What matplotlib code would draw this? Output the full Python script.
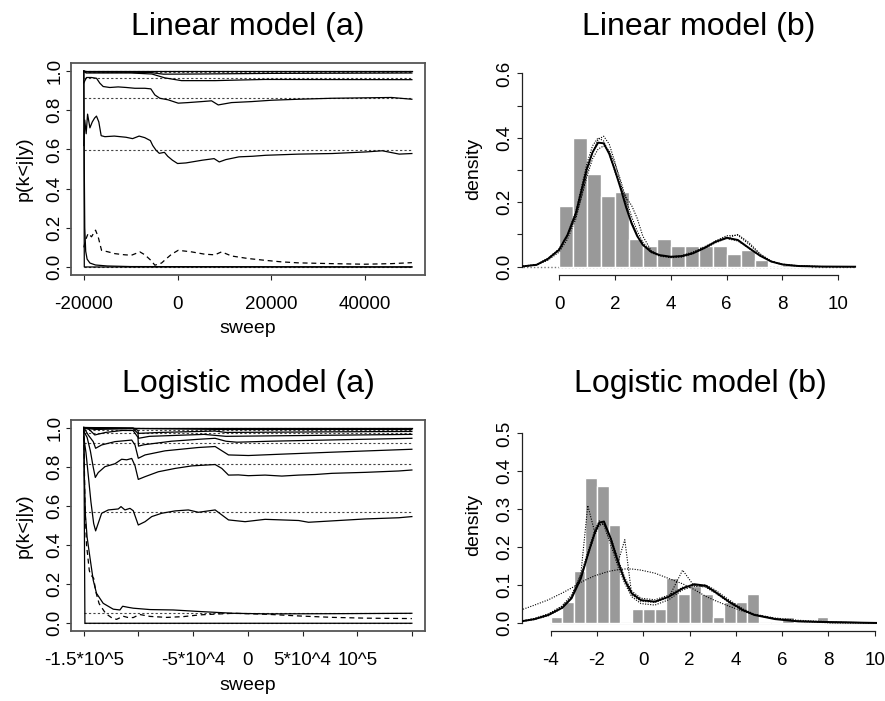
import matplotlib
matplotlib.use("Agg")
import matplotlib.pyplot as plt

plt.rcParams['font.family'] = ['Liberation Sans', 'DejaVu Sans']
plt.rcParams['axes.unicode_minus'] = False

# ---------------- data ----------------
# Linear model (a): running estimates of p(k<j|y)
lin_A_x = [-20000, -19800, -19500, -19200, -18700, -18200, -17700, -17300, -16800, -16300,
           -15500, -13500, -11000, -9600, -8200, -7000, -5800, -5300, -4600, -3900,
           -2800, -2100, -1100, 0, 1800, 5300, 7800, 8900, 10300, 13100,
           16000, 18800, 25900, 33000, 40100, 43700, 47300, 50000]
lin_A_y = [0.62, 0.75, 0.68, 0.78, 0.71, 0.74, 0.76, 0.77, 0.74, 0.67,
           0.665, 0.668, 0.662, 0.655, 0.668, 0.66, 0.645, 0.62, 0.596, 0.58,
           0.585, 0.565, 0.545, 0.528, 0.531, 0.545, 0.553, 0.536, 0.548, 0.562,
           0.565, 0.57, 0.576, 0.579, 0.587, 0.593, 0.576, 0.579]
lin_B_x = [-20000, -19430, -18360, -17290, -16580, -15870, -14450, -12670, -10890, -9110,
           -6980, -5700, -4840, -3780, -2000, 140, 2270, 5120, 7250, 8680,
           11520, 15790, 20060, 25750, 32860, 45660, 50000]
lin_B_y = [0.94, 0.967, 0.967, 0.963, 0.938, 0.921, 0.916, 0.919, 0.916, 0.912,
           0.912, 0.909, 0.878, 0.861, 0.853, 0.836, 0.839, 0.844, 0.848, 0.827,
           0.839, 0.844, 0.851, 0.856, 0.861, 0.865, 0.856]
lin_C_x = [-20000, -19500, -10000, -5500, -2700, 850, 8000, 12900, 18600, 50000]
lin_C_y = [1.0, 0.99, 0.99, 0.985, 0.965, 0.951, 0.951, 0.954, 0.957, 0.956]
lin_D_x = [-20000, -19000, -6000, -3000, 5000, 20000, 50000]
lin_D_y = [1.0, 0.995, 0.993, 0.984, 0.985, 0.988, 0.99]
lin_E_x = [-20000, 50000]
lin_E_y = [1.0, 1.0]
lin_G_x = [-20000, -19900, -19800, -19600, -19300, -18700, -17500, -15000, -10000, 50000]
lin_G_y = [1.0, 0.5, 0.2, 0.08, 0.04, 0.02, 0.01, 0.005, 0.002, 0.0]
lin_H_x = [-20000, -19900, 50000]
lin_H_y = [1.0, 0.0, 0.0]
lin_F_x = [-20000, -19640, -19080, -18360, -17500, -16940, -16220, -14800, -13380, -11250,
           -9820, -8040, -6980, -5700, -4840, -3420, -2350, -1280, 140, 2990,
           5830, 7960, 9390, 11520, 15070, 18630, 22190, 25740, 32860, 39970,
           45660, 50000]
lin_F_y = [0.1, 0.137, 0.171, 0.154, 0.188, 0.154, 0.085, 0.077, 0.068, 0.062,
           0.06, 0.077, 0.062, 0.034, 0.009, 0.02, 0.043, 0.065, 0.085, 0.077,
           0.065, 0.062, 0.077, 0.056, 0.043, 0.034, 0.026, 0.021, 0.017, 0.014,
           0.017, 0.022]
lin_ref = [0.0, 0.597, 0.861, 0.962, 0.994, 1.0]
lin_sweep = [-20000, 50000]

# Logistic model (a)
log_T1_x = [-150000, -148000, -146000, -143500, -141000, -139200, -133700, -127600, -118500, -116000,
            -112400, -107800, -104800, -100200, -94000, -87900, -78800, -66600, -54400, -45200,
            -29900, -17700, -2500, 15800, 31100, 46400, 55500, 76900, 107400, 137900, 150000]
log_T1_y = [0.95, 0.87, 0.76, 0.62, 0.51, 0.472, 0.562, 0.579, 0.584, 0.596,
            0.579, 0.587, 0.575, 0.502, 0.519, 0.545, 0.562, 0.574, 0.579, 0.567,
            0.579, 0.528, 0.519, 0.531, 0.528, 0.525, 0.516, 0.523, 0.533, 0.539, 0.545]
log_T2_x = [-150000, -147000, -144000, -141500, -139500, -136800, -130700, -121500, -115400, -110800,
            -106200, -103200, -100200, -94000, -81900, -66600, -51300, -39100, -29900, -23800,
            -17700, -8600, 500, 15800, 31100, 46400, 61600, 76900, 107400, 137900, 150000]
log_T2_y = [0.98, 0.95, 0.88, 0.8, 0.745, 0.77, 0.8, 0.815, 0.838, 0.835,
            0.842, 0.805, 0.735, 0.749, 0.774, 0.791, 0.804, 0.808, 0.811, 0.791,
            0.757, 0.758, 0.754, 0.757, 0.752, 0.757, 0.76, 0.766, 0.771, 0.778, 0.783]
log_T3_x = [-150000, -146000, -141400, -139200, -133700, -121500, -106200, -103200, -100200, -94000,
            -75700, -45200, -29900, -17700, 500, 31100, 76900, 150000]
log_T3_y = [1.0, 0.962, 0.928, 0.894, 0.911, 0.928, 0.936, 0.911, 0.843, 0.86,
            0.881, 0.898, 0.903, 0.86, 0.857, 0.864, 0.874, 0.889]
log_T4_x = [-150000, -145000, -140000, -130000, -115000, -105000, -100500, -100000, -95000, -70000,
            -45000, -30000, -20000, -10000, 20000, 80000, 150000]
log_T4_y = [1.0, 0.99, 0.962, 0.975, 0.985, 0.985, 0.95, 0.905, 0.912, 0.93,
            0.94, 0.945, 0.93, 0.925, 0.93, 0.937, 0.945]
log_T5_x = [-150000, -140000, -105000, -100500, -100000, -90000, -40000, -20000, 150000]
log_T5_y = [1.0, 0.99, 0.995, 0.97, 0.945, 0.955, 0.965, 0.955, 0.965]
log_T6_x = [-150000, -105000, -100500, -100000, -80000, -30000, -20000, 150000]
log_T6_y = [1.0, 0.998, 0.985, 0.97, 0.975, 0.982, 0.975, 0.98]
log_T7_x = [-150000, -100000, -20000, 150000]
log_T7_y = [1.0, 0.995, 0.99, 0.99]
log_T8_x = [-150000, 150000]
log_T8_y = [1.0, 1.0]
log_L1_x = [-150000, -149500, -148500, -147000, -144500, -141400, -138400, -132300, -123100, -117000,
            -114500, -110000, -104800, -89500, -68200, -43800, -13200, 17300, 78300, 150000]
log_L1_y = [1.0, 0.75, 0.55, 0.44, 0.34, 0.22, 0.153, 0.102, 0.072, 0.068,
            0.087, 0.082, 0.077, 0.07, 0.068, 0.06, 0.051, 0.048, 0.049, 0.051]
log_L2_x = [-150000, -149000, -147500, -145000, -144000, -141000, -139000, -136000, -130000, -124000,
            -120000, -114000, -110000, -104800, -99000, -89500, -74000, -59000, -43800, -13200,
            17300, 48000, 78300, 109000, 150000]
log_L2_y = [1.0, 0.6, 0.4, 0.27, 0.25, 0.23, 0.16, 0.1, 0.05, 0.026,
            0.02, 0.036, 0.03, 0.029, 0.045, 0.035, 0.03, 0.034, 0.043, 0.051,
            0.046, 0.037, 0.03, 0.026, 0.024]
log_L3_x = [-150000, -149000, 150000]
log_L3_y = [1.0, 0.0, 0.0]
log_ref = [0.0, 0.054, 0.57, 0.812, 0.919, 0.97, 0.989, 1.0]
log_sweep = [-150000, 150000]
log_xticks = [-150000, -100000, -50000, 0, 50000, 100000, 150000]
log_xlabels = ['-1.5*10^5', '', '-5*10^4', '0', '5*10^4', '10^5', '']

# Linear model (b): histogram + fitted densities
lin_bin_left = [0.0, 0.5, 1.0, 1.5, 2.0, 2.5, 3.0, 3.5, 4.0, 4.5, 5.0, 5.5, 6.0, 6.5, 7.0, 7.5, 8.0, 8.5]
lin_hist = [0.188, 0.400, 0.289, 0.221, 0.232, 0.086, 0.064, 0.086, 0.064, 0.064,
            0.064, 0.064, 0.041, 0.053, 0.020, 0.0, 0.005, 0.008]
lin_grid = [-1.3, -0.8, -0.4, 0.0, 0.3, 0.6, 0.8, 1.0, 1.2, 1.4, 1.6, 1.8, 2.0, 2.2, 2.4, 2.6, 2.8,
            3.0, 3.3, 3.6, 4.0, 4.4, 4.8, 5.2, 5.6, 6.0, 6.4, 6.8, 7.2, 7.6, 8.0, 8.6, 9.4, 10.6]
lin_dens = [0.001, 0.006, 0.024, 0.052, 0.098, 0.165, 0.235, 0.305, 0.355, 0.385, 0.383, 0.35, 0.30,
            0.245, 0.185, 0.134, 0.095, 0.068, 0.046, 0.036, 0.031, 0.033, 0.042, 0.058, 0.077,
            0.09, 0.083, 0.058, 0.034, 0.016, 0.007, 0.002, 0.0005, 0.0]
lin_draw1 = [0.001, 0.005, 0.02, 0.045, 0.085, 0.148, 0.215, 0.29, 0.355, 0.395, 0.405, 0.38, 0.325,
             0.26, 0.195, 0.14, 0.098, 0.068, 0.044, 0.033, 0.028, 0.03, 0.04, 0.058, 0.08,
             0.096, 0.098, 0.07, 0.038, 0.016, 0.006, 0.0015, 0.0003, 0.0]
lin_draw2 = [0.001, 0.006, 0.025, 0.055, 0.1, 0.17, 0.245, 0.32, 0.375, 0.4, 0.39, 0.35, 0.295,
             0.25, 0.215, 0.19, 0.15, 0.095, 0.05, 0.035, 0.03, 0.032, 0.041, 0.056, 0.074,
             0.088, 0.1, 0.075, 0.04, 0.017, 0.007, 0.002, 0.0004, 0.0]
lin_draw3 = [0.002, 0.007, 0.026, 0.054, 0.095, 0.155, 0.215, 0.28, 0.335, 0.365, 0.375, 0.36, 0.32,
             0.27, 0.21, 0.155, 0.11, 0.076, 0.048, 0.035, 0.03, 0.035, 0.046, 0.062, 0.078,
             0.087, 0.08, 0.057, 0.034, 0.017, 0.008, 0.0025, 0.0006, 0.0]

# Logistic model (b)
log_bin_left = [-4.0, -3.5, -3.0, -2.5, -2.0, -1.5, -1.0, -0.5, 0.0, 0.5, 1.0, 1.5,
                2.0, 2.5, 3.0, 3.5, 4.0, 4.5, 5.0, 5.5, 6.0, 6.5, 7.0, 7.5]
log_hist = [0.017, 0.057, 0.138, 0.382, 0.361, 0.259, 0.0, 0.037, 0.037, 0.037, 0.118, 0.077,
            0.097, 0.077, 0.017, 0.057, 0.057, 0.077, 0.0, 0.0, 0.017, 0.0, 0.0, 0.017]
log_grid = [-5.2, -4.7, -4.1, -3.5, -3.1, -2.7, -2.4, -2.1, -1.9, -1.7, -1.4, -1.1, -0.8, -0.5,
            -0.1, 0.5, 1.1, 1.7, 2.2, 2.7, 3.1, 3.7, 4.3, 4.8, 5.7, 6.7, 8.1, 10.1]
log_dens = [0.006, 0.011, 0.022, 0.041, 0.066, 0.118, 0.18, 0.238, 0.265, 0.268, 0.222, 0.163,
            0.113, 0.079, 0.061, 0.057, 0.07, 0.092, 0.103, 0.099, 0.083, 0.057, 0.035, 0.022,
            0.011, 0.005, 0.003, 0.001]
log_wide = [0.037, 0.048, 0.062, 0.08, 0.093, 0.108, 0.117, 0.125, 0.129, 0.133, 0.138, 0.141,
            0.143, 0.143, 0.14, 0.132, 0.118, 0.104, 0.089, 0.071, 0.06, 0.045, 0.032, 0.023,
            0.012, 0.005, 0.0012, 0.0001]
log_draw1 = [0.005, 0.01, 0.02, 0.04, 0.068, 0.13, 0.31, 0.24, 0.26, 0.262, 0.215, 0.16,
             0.22, 0.075, 0.058, 0.055, 0.068, 0.14, 0.098, 0.097, 0.082, 0.058, 0.036, 0.023,
             0.012, 0.006, 0.003, 0.001]
log_draw2 = [0.007, 0.013, 0.025, 0.045, 0.07, 0.12, 0.178, 0.232, 0.258, 0.262, 0.225, 0.17,
             0.12, 0.085, 0.066, 0.062, 0.074, 0.095, 0.1, 0.095, 0.08, 0.055, 0.034, 0.022,
             0.012, 0.006, 0.004, 0.001]
log_draw3 = [0.006, 0.012, 0.024, 0.046, 0.075, 0.128, 0.188, 0.245, 0.27, 0.258, 0.205, 0.15,
             0.105, 0.07, 0.052, 0.048, 0.062, 0.088, 0.098, 0.101, 0.088, 0.062, 0.038, 0.024,
             0.014, 0.008, 0.004, 0.001]

# ---------------- figure ----------------
W, H = 885, 701
fig = plt.figure(figsize=(W / 100, H / 100), dpi=100)


def px_axes(l, t, r, b):
    return fig.add_axes([l / W, 1 - b / H, (r - l) / W, (b - t) / H])


TICK = dict(direction='out', length=3.8, width=0.8, labelsize=13.5, color='#222222')
DOT = (0, (2, 2))


def trace_panel(ax, traces, dashed, refs, sweep, xticks, xlabels):
    for r in refs:
        ax.plot(sweep, [r, r], color='#444444', lw=0.8, ls=DOT)
    for x, y in traces:
        ax.plot(x, y, color='black', lw=0.9)
    for x, y in dashed:
        ax.plot(x, y, color='black', lw=0.9, ls=(0, (4, 3)))
    span = sweep[1] - sweep[0]
    ax.set_xlim(sweep[0] - 0.04 * span, sweep[1] + 0.04 * span)
    ax.set_ylim(-0.04, 1.04)
    for s in ax.spines.values():
        s.set_color('#555555')
        s.set_linewidth(1.3)
    ax.set_xticks(xticks)
    ax.set_xticklabels(xlabels)
    ax.set_yticks([0.0, 0.2, 0.4, 0.6, 0.8, 1.0])
    ax.set_yticklabels(['0.0', '0.2', '0.4', '0.6', '0.8', '1.0'], rotation=90, va='center')
    ax.tick_params(axis='x', pad=11.5, **TICK)
    ax.tick_params(axis='y', pad=1.5, **TICK)
    ax.set_xlabel('sweep', fontsize=14)
    ax.set_ylabel('p(k<j|y)', fontsize=14)
    ax.xaxis.set_label_coords(0.5, -0.215)
    ax.yaxis.set_label_coords(-0.106, 0.5)


def density_panel(ax, left, hist, grid, fit, draws, xb, yb, yticks, ylabels):
    ax.bar(left, hist, width=0.5, align='edge', color='#999999', edgecolor='white', lw=1.0, zorder=1)
    for d in draws:
        ax.plot(grid, d, color='black', lw=0.8, ls=(0, (1, 1.3)), zorder=2)
    ax.plot(grid, fit, color='black', lw=1.4, zorder=3)
    ax.spines['top'].set_visible(False)
    ax.spines['right'].set_visible(False)
    ax.spines['left'].set_bounds(yb[0], yb[1])
    ax.spines['bottom'].set_bounds(xb[0], xb[1])
    for s in ('left', 'bottom'):
        ax.spines[s].set_linewidth(0.9)
        ax.spines[s].set_color('#222222')
    ax.set_yticks(yticks)
    ax.set_yticklabels(ylabels, rotation=90, va='center')
    ax.tick_params(axis='x', pad=11.5, **TICK)
    ax.tick_params(axis='y', pad=3.0, **TICK)
    ax.set_ylabel('density', fontsize=14)
    ax.yaxis.set_label_coords(-0.112, 0.5)


# Linear model (a)
ax1 = px_axes(70.7, 63.2, 425, 274.8)
trace_panel(ax1,
            [(lin_A_x, lin_A_y), (lin_B_x, lin_B_y), (lin_C_x, lin_C_y), (lin_D_x, lin_D_y),
             (lin_E_x, lin_E_y), (lin_G_x, lin_G_y), (lin_H_x, lin_H_y)],
            [(lin_F_x, lin_F_y)], lin_ref, lin_sweep,
            [-20000, 0, 20000, 40000], ['-20000', '0', '20000', '40000'])

# Logistic model (a)
ax3 = px_axes(70.7, 419.7, 425, 631.1)
trace_panel(ax3,
            [(log_T1_x, log_T1_y), (log_T2_x, log_T2_y), (log_T3_x, log_T3_y), (log_T4_x, log_T4_y),
             (log_T5_x, log_T5_y), (log_T6_x, log_T6_y), (log_T7_x, log_T7_y), (log_T8_x, log_T8_y),
             (log_L1_x, log_L1_y), (log_L3_x, log_L3_y)],
            [(log_L2_x, log_L2_y)], log_ref, log_sweep, log_xticks, log_xlabels)

# Linear model (b)
ax2 = px_axes(522.3, 63.2, 876.6, 274.8)
ax2.plot([lin_grid[0], lin_grid[-1]], [0, 0], color='#777777', lw=1.0, ls=(0, (1, 1.5)), zorder=0)
density_panel(ax2, lin_bin_left, lin_hist, lin_grid, lin_dens, [lin_draw1, lin_draw2, lin_draw3],
              (0, 10), (0, 0.6), [0, 0.1, 0.2, 0.3, 0.4, 0.5, 0.6],
              ['0.0', '', '0.2', '', '0.4', '', '0.6'])
ax2.set_xlim(-1.314, 11.37)
ax2.set_ylim(-0.0251, 0.6316)
ax2.set_xticks([0, 2, 4, 6, 8, 10])
ax2.set_xticklabels(['0', '2', '4', '6', '8', '10'])

# Logistic model (b)
ax4 = px_axes(522.3, 419.7, 876.6, 631.1)
ax4.plot([-4, 10], [0, 0], color='#dddddd', lw=1.0, zorder=0)
density_panel(ax4, log_bin_left, log_hist, log_grid, log_dens,
              [log_wide, log_draw1, log_draw2, log_draw3],
              (-4, 10), (0, 0.5), [0, 0.1, 0.2, 0.3, 0.4, 0.5],
              ['0.0', '0.1', '0.2', '0.3', '0.4', '0.5'])
ax4.set_xlim(-5.231, 10.086)
ax4.set_ylim(-0.0205, 0.536)
ax4.set_xticks([-4, -2, 0, 2, 4, 6, 8, 10])
ax4.set_xticklabels(['-4', '-2', '0', '2', '4', '6', '8', '10'])

# titles
TITLE = dict(ha='center', va='baseline', fontsize=23)
fig.text(248 / W, 1 - 35 / H, 'Linear model (a)', **TITLE)
fig.text(699 / W, 1 - 35 / H, 'Linear model (b)', **TITLE)
fig.text(248 / W, 1 - 391.7 / H, 'Logistic model (a)', **TITLE)
fig.text(700 / W, 1 - 391.7 / H, 'Logistic model (b)', **TITLE)

fig.savefig('out.png', dpi=100, facecolor='white')
